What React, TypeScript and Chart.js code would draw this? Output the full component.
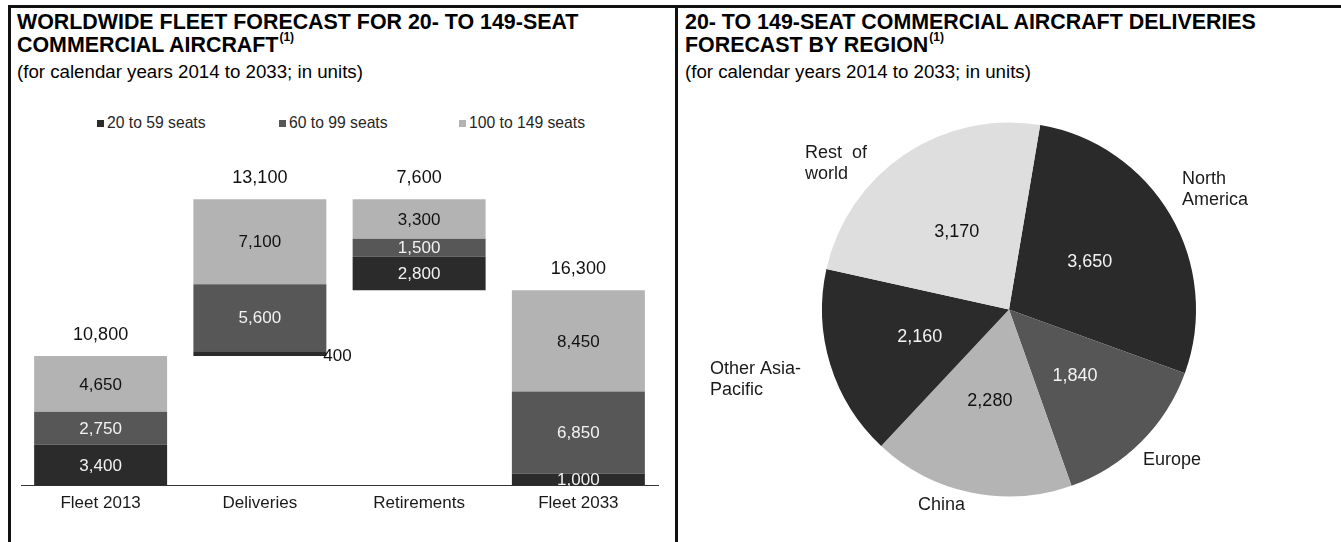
import React, { useEffect, useRef } from 'react';
import { Chart, registerables } from 'chart.js';

Chart.register(...registerables);

// ---------------- DATA ----------------
const categories = ['Fleet 2013', 'Deliveries', 'Retirements', 'Fleet 2033'];
const categoryKinds = ['total', 'add', 'subtract', 'total'];
const seriesNames = ['20 to 59 seats', '60 to 99 seats', '100 to 149 seats'];
const seats20to59 = [3400, 400, 2800, 1000];
const seats60to99 = [2750, 5600, 1500, 6850];
const seats100to149 = [4650, 7100, 3300, 8450];

const regions = ['North America', 'Europe', 'China', 'Other Asia-Pacific', 'Rest of world'];
const regionLabelLines = [['North', 'America'], ['Europe'], ['China'], ['Other Asia-', 'Pacific'], ['Rest  of', 'world']];
const regionDeliveries = [3650, 1840, 2280, 2160, 3170];

// ---------------- STYLE ----------------
const FONT = '"Liberation Sans", Arial, Helvetica, sans-serif';
const seriesColors = ['#2b2b2b', '#575757', '#b3b3b3'];
const segmentTextColors = ['#f2f2f2', '#f2f2f2', '#111111'];
const pieColors = ['#2a2a2a', '#565656', '#b4b4b4', '#2b2b2b', '#dedede'];
const pieTextColors = ['#f2f2f2', '#f2f2f2', '#111111', '#f2f2f2', '#111111'];
const legendLefts = [97, 279, 459];
// outside label placement: left edge and vertical centre, in units of pie radius from the centre
const outsideLabelPlacement = [
  { left: 0.925, cy: -0.639 },
  { left: 0.717, cy: 0.805 },
  { left: -0.487, cy: 1.045 },
  { left: -1.599, cy: 0.374 },
  { left: -1.091, cy: -0.783 },
];

const fmt = (v: number) => v.toLocaleString('en-US');

// ---------------- DERIVED ----------------
const series = [seats20to59, seats60to99, seats100to149];
const totals = categories.map((_, i) => series.reduce((s, arr) => s + arr[i], 0));
const bases: number[] = [];
(() => {
  let running = 0;
  categoryKinds.forEach((k, i) => {
    if (k === 'total') {
      bases.push(0);
      running = totals[i];
    } else if (k === 'add') {
      bases.push(running);
      running += totals[i];
    } else {
      running -= totals[i];
      bases.push(running);
    }
  });
})();
const floatingData = series.map((arr, k) =>
  arr.map((v, i) => {
    let low = bases[i];
    for (let j = 0; j < k; j++) low += series[j][i];
    return [low, low + v];
  })
);

const barLabelPlugin = {
  id: 'barLabels',
  afterDatasetsDraw(chart: any) {
    const ctx = chart.ctx;
    ctx.save();
    ctx.textBaseline = 'middle';
    series.forEach((values, k) => {
      const meta = chart.getDatasetMeta(k);
      meta.data.forEach((el: any, i: number) => {
        const { x, y, base, width } = el.getProps(['x', 'y', 'base', 'width'], true);
        const top = Math.min(y, base);
        const bottom = Math.max(y, base);
        const h = bottom - top;
        const text = fmt(values[i]);
        ctx.font = `17px ${FONT}`;
        if (h < 8) {
          ctx.textAlign = 'left';
          ctx.fillStyle = '#111111';
          ctx.fillText(text, x + width / 2 - 3, (top + bottom) / 2 + 3);
        } else {
          ctx.textAlign = 'center';
          ctx.fillStyle = segmentTextColors[k];
          ctx.fillText(text, x, (top + bottom) / 2 + 1);
        }
      });
    });
    const xs = chart.scales.x;
    const ys = chart.scales.y;
    ctx.font = `18px ${FONT}`;
    ctx.fillStyle = '#111111';
    ctx.textAlign = 'center';
    totals.forEach((t, i) => {
      const topVal = bases[i] + t;
      ctx.fillText(fmt(t), xs.getPixelForValue(i), ys.getPixelForValue(topVal) - 21);
    });
    ctx.restore();
  },
};

const pieLabelPlugin = {
  id: 'pieLabels',
  afterDatasetsDraw(chart: any) {
    const ctx = chart.ctx;
    ctx.save();
    ctx.textBaseline = 'middle';
    const meta = chart.getDatasetMeta(0);
    meta.data.forEach((arc: any, i: number) => {
      const pos = arc.tooltipPosition(true);
      ctx.font = `18px ${FONT}`;
      ctx.textAlign = 'center';
      ctx.fillStyle = pieTextColors[i];
      ctx.fillText(fmt(regionDeliveries[i]), pos.x, pos.y);

      const { x, y, outerRadius } = arc.getProps(['x', 'y', 'outerRadius'], true);
      const p = outsideLabelPlacement[i];
      const left = x + p.left * outerRadius;
      const cy = y + p.cy * outerRadius;
      const lines = regionLabelLines[i];
      ctx.textAlign = 'left';
      ctx.fillStyle = '#1a1a1a';
      lines.forEach((ln, j) => {
        ctx.fillText(ln, left, cy + (j - (lines.length - 1) / 2) * 21);
      });
    });
    ctx.restore();
  },
};

function FleetChart() {
  const ref = useRef<HTMLCanvasElement>(null);
  useEffect(() => {
    const chart = new Chart(ref.current as HTMLCanvasElement, {
      type: 'bar',
      data: {
        labels: categories,
        datasets: series.map((_, k) => ({
          label: seriesNames[k],
          data: floatingData[k] as any,
          backgroundColor: seriesColors[k],
          borderWidth: 0,
          categoryPercentage: 1,
          barPercentage: 0.835,
        })),
      },
      options: {
        animation: false,
        responsive: true,
        maintainAspectRatio: false,
        layout: { padding: { left: 10, right: 17, top: 96, bottom: 20.1 } },
        plugins: { legend: { display: false }, tooltip: { enabled: false } },
        scales: {
          x: {
            stacked: true,
            grid: { display: false, drawTicks: false },
            border: { display: true, color: '#333333', width: 1 },
            ticks: { font: { size: 17, family: FONT }, color: '#1a1a1a', padding: 8 },
          },
          y: { display: false, stacked: false, min: 0, max: 25000 },
        },
      },
      plugins: [barLabelPlugin],
    });
    return () => chart.destroy();
  }, []);
  return (
    <div style={{ position: 'absolute', left: 11, top: 90, width: 664, height: 452 }}>
      <canvas ref={ref} />
    </div>
  );
}

function RegionChart() {
  const ref = useRef<HTMLCanvasElement>(null);
  useEffect(() => {
    const chart = new Chart(ref.current as HTMLCanvasElement, {
      type: 'pie',
      data: {
        labels: regions,
        datasets: [{ data: regionDeliveries, backgroundColor: pieColors, borderWidth: 0 }],
      },
      options: {
        animation: false,
        responsive: true,
        maintainAspectRatio: false,
        rotation: 9.6,
        layout: { padding: { left: 144, right: 145, top: 22.5, bottom: 45.5 } },
        plugins: { legend: { display: false }, tooltip: { enabled: false } },
      },
      plugins: [pieLabelPlugin],
    });
    return () => chart.destroy();
  }, []);
  return (
    <div style={{ position: 'absolute', left: 678, top: 100, width: 663, height: 442 }}>
      <canvas ref={ref} />
    </div>
  );
}

const titleStyle: React.CSSProperties = {
  position: 'absolute',
  top: 11,
  fontFamily: FONT,
  fontWeight: 'bold',
  fontSize: 21.4,
  lineHeight: '23px',
  color: '#000',
  whiteSpace: 'nowrap',
};
const subStyle: React.CSSProperties = {
  position: 'absolute',
  top: 60,
  fontFamily: FONT,
  fontSize: 18.7,
  lineHeight: '23px',
  color: '#000',
  whiteSpace: 'nowrap',
};
const supStyle: React.CSSProperties = {
  fontSize: 12,
  position: 'relative',
  top: -11,
  marginLeft: 1,
};

export default function App() {
  return (
    <div style={{ position: 'relative', width: 1341, height: 542, overflow: 'hidden', background: '#fff' }}>
      <style>{`html,body{margin:0;padding:0;background:#fff;}`}</style>
      {/* frame */}
      <div style={{ position: 'absolute', left: 8, top: 5, width: 1333, height: 3, background: '#111' }} />
      <div style={{ position: 'absolute', left: 8, top: 5, width: 3, height: 537, background: '#111' }} />
      <div style={{ position: 'absolute', left: 675, top: 5, width: 3, height: 537, background: '#111' }} />

      <div style={{ ...titleStyle, left: 17 }}>
        WORLDWIDE FLEET FORECAST FOR 20- TO 149-SEAT
        <br />
        COMMERCIAL AIRCRAFT<span style={supStyle}>(1)</span>
      </div>
      <div style={{ ...subStyle, left: 17 }}>(for calendar years 2014 to 2033; in units)</div>

      <div style={{ ...titleStyle, left: 685 }}>
        20- TO 149-SEAT COMMERCIAL AIRCRAFT DELIVERIES
        <br />
        FORECAST BY REGION<span style={supStyle}>(1)</span>
      </div>
      <div style={{ ...subStyle, left: 685 }}>(for calendar years 2014 to 2033; in units)</div>

      {seriesNames.map((name, k) => (
        <div
          key={name}
          style={{
            position: 'absolute',
            left: legendLefts[k],
            top: 113,
            height: 20,
            display: 'flex',
            alignItems: 'center',
            fontFamily: FONT,
            fontSize: 15.7,
            color: '#262626',
            whiteSpace: 'nowrap',
          }}
        >
          <span style={{ display: 'inline-block', width: 7, height: 7, background: seriesColors[k], marginRight: 3 }} />
          {name}
        </div>
      ))}

      <FleetChart />
      <RegionChart />
    </div>
  );
}
